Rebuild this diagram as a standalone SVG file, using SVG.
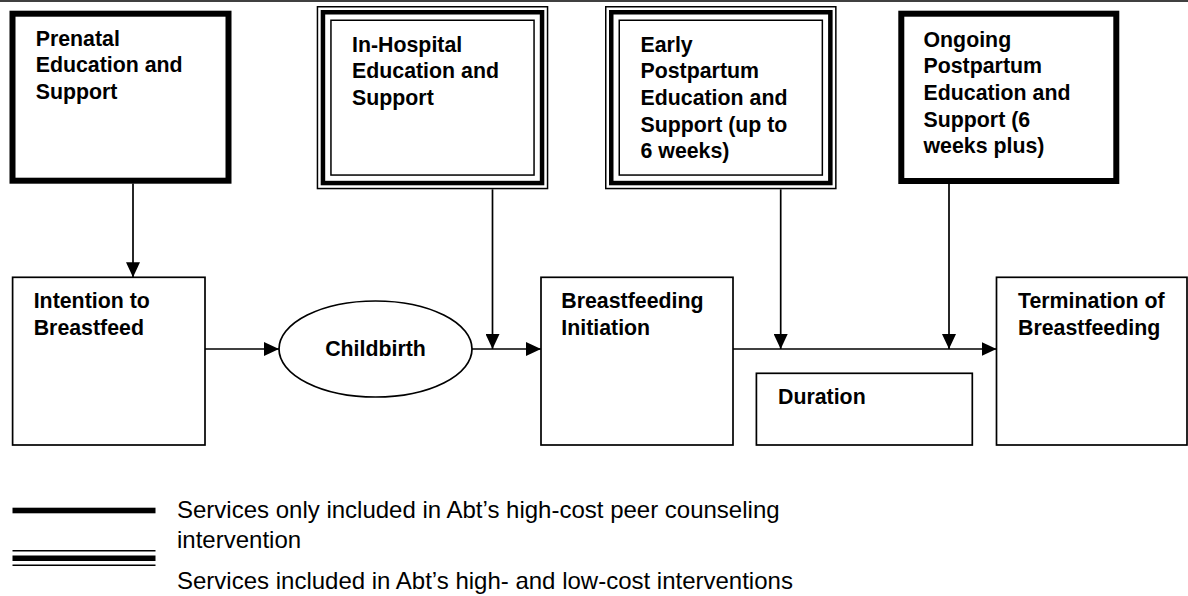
<svg xmlns="http://www.w3.org/2000/svg" width="1188" height="596" viewBox="0 0 1188 596">
<style>
  .t{font-family:"Liberation Sans",Arial,sans-serif;font-size:21.33px;font-weight:bold;fill:#000}
  .lg{font-family:"Liberation Sans",Arial,sans-serif;font-size:24px;fill:#000}
  .box{fill:#fff;stroke:#000;stroke-width:1.7}
  .thick{fill:#fff;stroke:#000;stroke-width:6}
  .thin{fill:none;stroke:#000;stroke-width:1.5}
  .mid{fill:none;stroke:#000;stroke-width:4.5}
  .c{fill:none;stroke:#000;stroke-width:1.7}
</style>
<defs>
  <marker id="ah" markerUnits="userSpaceOnUse" viewBox="0 0 15 14" refX="15" refY="7" markerWidth="15" markerHeight="14" orient="auto">
    <path d="M0,0 L15,7 L0,14 Z" fill="#000"/>
  </marker>
</defs>
<rect width="1188" height="596" fill="#fff"/>
<line x1="0" y1="1" x2="1188" y2="1" stroke="#000" stroke-width="1.5"/>

<g id="prenatal">
  <rect class="thick" x="12.5" y="13.7" width="216" height="167"/>
  <text class="t" x="35.7" y="45.7">Prenatal</text>
  <text class="t" x="35.7" y="72.4">Education and</text>
  <text class="t" x="35.7" y="99">Support</text>
</g>

<g id="inhospital">
  <rect fill="#fff" x="316.7" y="6" width="231.6" height="183.3"/>
  <rect class="thin" x="317.45" y="6.75" width="230.1" height="181.8"/>
  <rect class="mid" x="322.95" y="12.25" width="219.1" height="170.8"/>
  <rect class="thin" x="330.95" y="20.25" width="203.1" height="154.8"/>
  <text class="t" x="352" y="51.7">In-Hospital</text>
  <text class="t" x="352" y="78.3">Education and</text>
  <text class="t" x="352" y="105">Support</text>
</g>

<g id="early">
  <rect fill="#fff" x="605" y="6" width="231.6" height="183.3"/>
  <rect class="thin" x="605.75" y="6.75" width="230.1" height="181.8"/>
  <rect class="mid" x="611.25" y="12.25" width="219.1" height="170.8"/>
  <rect class="thin" x="619.25" y="20.25" width="203.1" height="154.8"/>
  <text class="t" x="640.5" y="51.7">Early</text>
  <text class="t" x="640.5" y="78.3">Postpartum</text>
  <text class="t" x="640.5" y="105">Education and</text>
  <text class="t" x="640.5" y="131.7">Support (up to</text>
  <text class="t" x="640.5" y="158.3">6 weeks)</text>
</g>

<g id="ongoing">
  <rect class="thick" x="901.3" y="13.7" width="215" height="167.3"/>
  <text class="t" x="923.5" y="46.5">Ongoing</text>
  <text class="t" x="923.5" y="73.2">Postpartum</text>
  <text class="t" x="923.5" y="99.9">Education and</text>
  <text class="t" x="923.5" y="126.6">Support (6</text>
  <text class="t" x="923.5" y="153.3">weeks plus)</text>
</g>

<g id="intention">
  <rect class="box" x="12.6" y="277.3" width="192.4" height="167.7"/>
  <text class="t" x="33.7" y="308.3">Intention to</text>
  <text class="t" x="33.7" y="335">Breastfeed</text>
</g>

<g id="childbirth">
  <ellipse class="box" cx="375.5" cy="349" rx="96.5" ry="48"/>
  <text class="t" x="375.5" y="356" text-anchor="middle">Childbirth</text>
</g>

<g id="initiation">
  <rect class="box" x="541" y="277.3" width="192" height="167.7"/>
  <text class="t" x="561.3" y="308.3">Breastfeeding</text>
  <text class="t" x="561.3" y="335">Initiation</text>
</g>

<g id="duration">
  <rect class="box" x="756.4" y="373.3" width="215.9" height="71.7"/>
  <text class="t" x="778" y="404">Duration</text>
</g>

<g id="termination">
  <rect class="box" x="996.5" y="277.3" width="190.5" height="167.7"/>
  <text class="t" x="1018" y="308.3">Termination of</text>
  <text class="t" x="1018" y="335">Breastfeeding</text>
</g>

<g id="connectors">
  <path class="c" d="M133 183.5 V277.3" marker-end="url(#ah)"/>
  <path class="c" d="M205 349 H279" marker-end="url(#ah)"/>
  <path class="c" d="M492.5 189.3 V349" marker-end="url(#ah)"/>
  <path class="c" d="M472 349 H541" marker-end="url(#ah)"/>
  <path class="c" d="M733 349 H996.5" marker-end="url(#ah)"/>
  <path class="c" d="M780.7 189.3 V349" marker-end="url(#ah)"/>
  <path class="c" d="M949 184 V349" marker-end="url(#ah)"/>
</g>

<g id="legend">
  <rect x="12.5" y="507.7" width="143" height="5.6" fill="#000"/>
  <rect x="12.5" y="550" width="143" height="1.5" fill="#000"/>
  <rect x="12.5" y="555.5" width="143" height="5.5" fill="#000"/>
  <rect x="12.5" y="564.5" width="143" height="1.5" fill="#000"/>
  <text class="lg" x="177" y="518">Services only included in Abt’s high-cost peer counseling</text>
  <text class="lg" x="177" y="548">intervention</text>
  <text class="lg" x="177" y="589">Services included in Abt’s high- and low-cost interventions</text>
</g>
</svg>
